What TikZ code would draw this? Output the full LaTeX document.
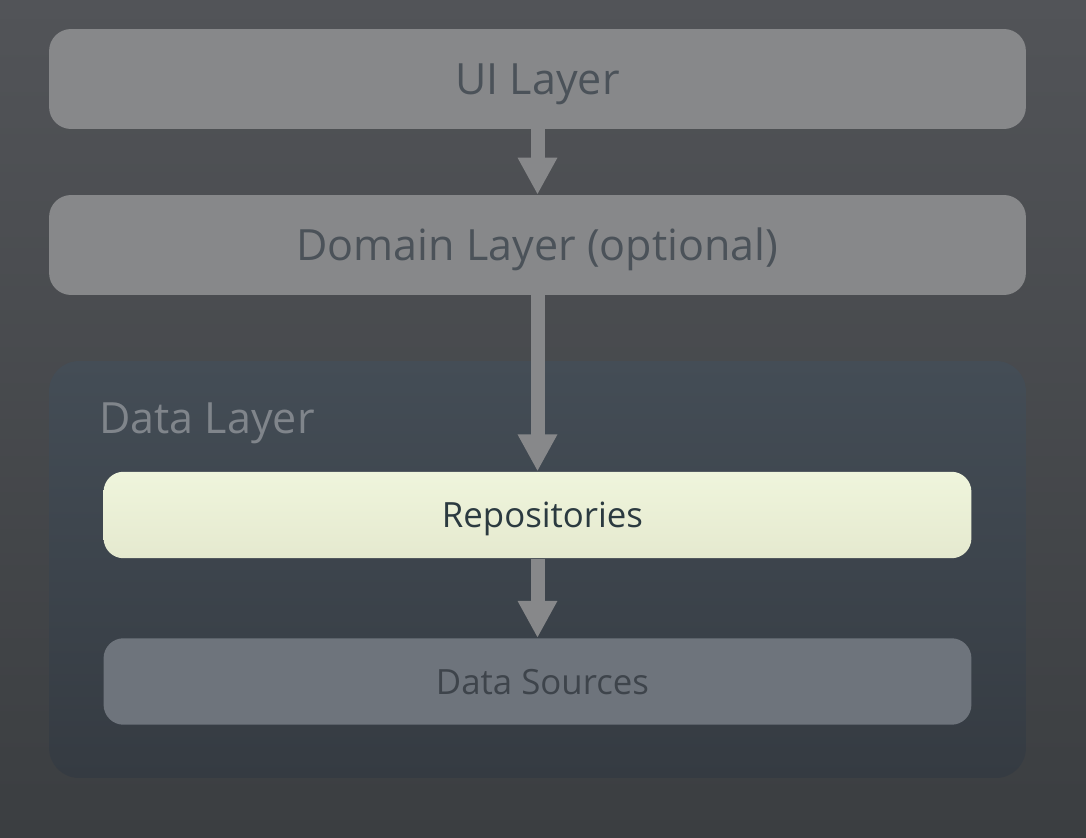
\documentclass[tikz,border=0pt]{standalone}
\usepackage{fontspec}
\setmainfont{Open Sans}
\usepackage{tikz}
\usetikzlibrary{arrows.meta,positioning}
\usepackage{xcolor}
\definecolor{bgtop}{RGB}{82,84,88}
\definecolor{bgbottom}{RGB}{59,62,65}
\definecolor{layergray}{RGB}{135,136,138}
\definecolor{layertext}{RGB}{75,82,89}
\definecolor{datatop}{RGB}{68,77,86}
\definecolor{databottom}{RGB}{53,59,66}
\definecolor{datatext}{RGB}{128,133,139}
\definecolor{repotop}{RGB}{239,245,220}
\definecolor{repobottom}{RGB}{229,233,207}
\definecolor{repotext}{RGB}{43,58,64}
\definecolor{sourcegray}{RGB}{110,116,124}
\definecolor{sourcetext}{RGB}{62,68,75}
\tikzstyle{layer} = [rectangle, rounded corners=0.44cm, minimum width=19.54cm, minimum height=2cm, inner sep=0pt, text centered, text height=0.62cm, text depth=0pt, fill=layergray, text=layertext, font=\fontsize{24.5}{28}\selectfont]
\tikzstyle{datapart} = [rectangle, rounded corners=0.4cm, minimum width=17.36cm, minimum height=1.73cm, inner sep=0pt, text centered, text height=0.5cm, text depth=0pt, font=\fontsize{19.8}{24}\selectfont]
\tikzstyle{flow} = [line width=0.28cm, draw=layergray, -{Triangle[width=0.74cm,length=0.74cm]}]

\begin{document}
\begin{tikzpicture}[x=0.02cm, y=-0.02cm]
% Background
\fill[top color=bgtop, bottom color=bgbottom] (0,0) rectangle (1086,838);

% Upper layers
\node (ui) [layer] at (537.5,79) {UI Layer};
\node (domain) [layer] at (537.5,245) {Domain Layer (optional)};

% Data layer with its parts
\node (datalayer) [rectangle, rounded corners=0.6cm, minimum width=19.54cm, minimum height=8.34cm, top color=datatop, bottom color=databottom] at (537.5,569.5) {};
\node (datalabel) [anchor=west, text=datatext, inner sep=0pt, text height=0.62cm, text depth=0pt, font=\fontsize{24.5}{28}\selectfont] at (99,418) {Data Layer};
\node (repos) [datapart, top color=repotop, bottom color=repobottom, text=repotext] at (537.5,515) {\hspace*{0.2cm}Repositories};
\node (sources) [datapart, fill=sourcegray, text=sourcetext] at (537.5,681.5) {\hspace*{0.2cm}Data Sources};

% Arrows down
\draw[flow] (ui.south) -- (domain.north);
\draw[flow] (domain.south) -- (repos.north);
\draw[flow] (repos.south) -- (sources.north);
\end{tikzpicture}
\end{document}
